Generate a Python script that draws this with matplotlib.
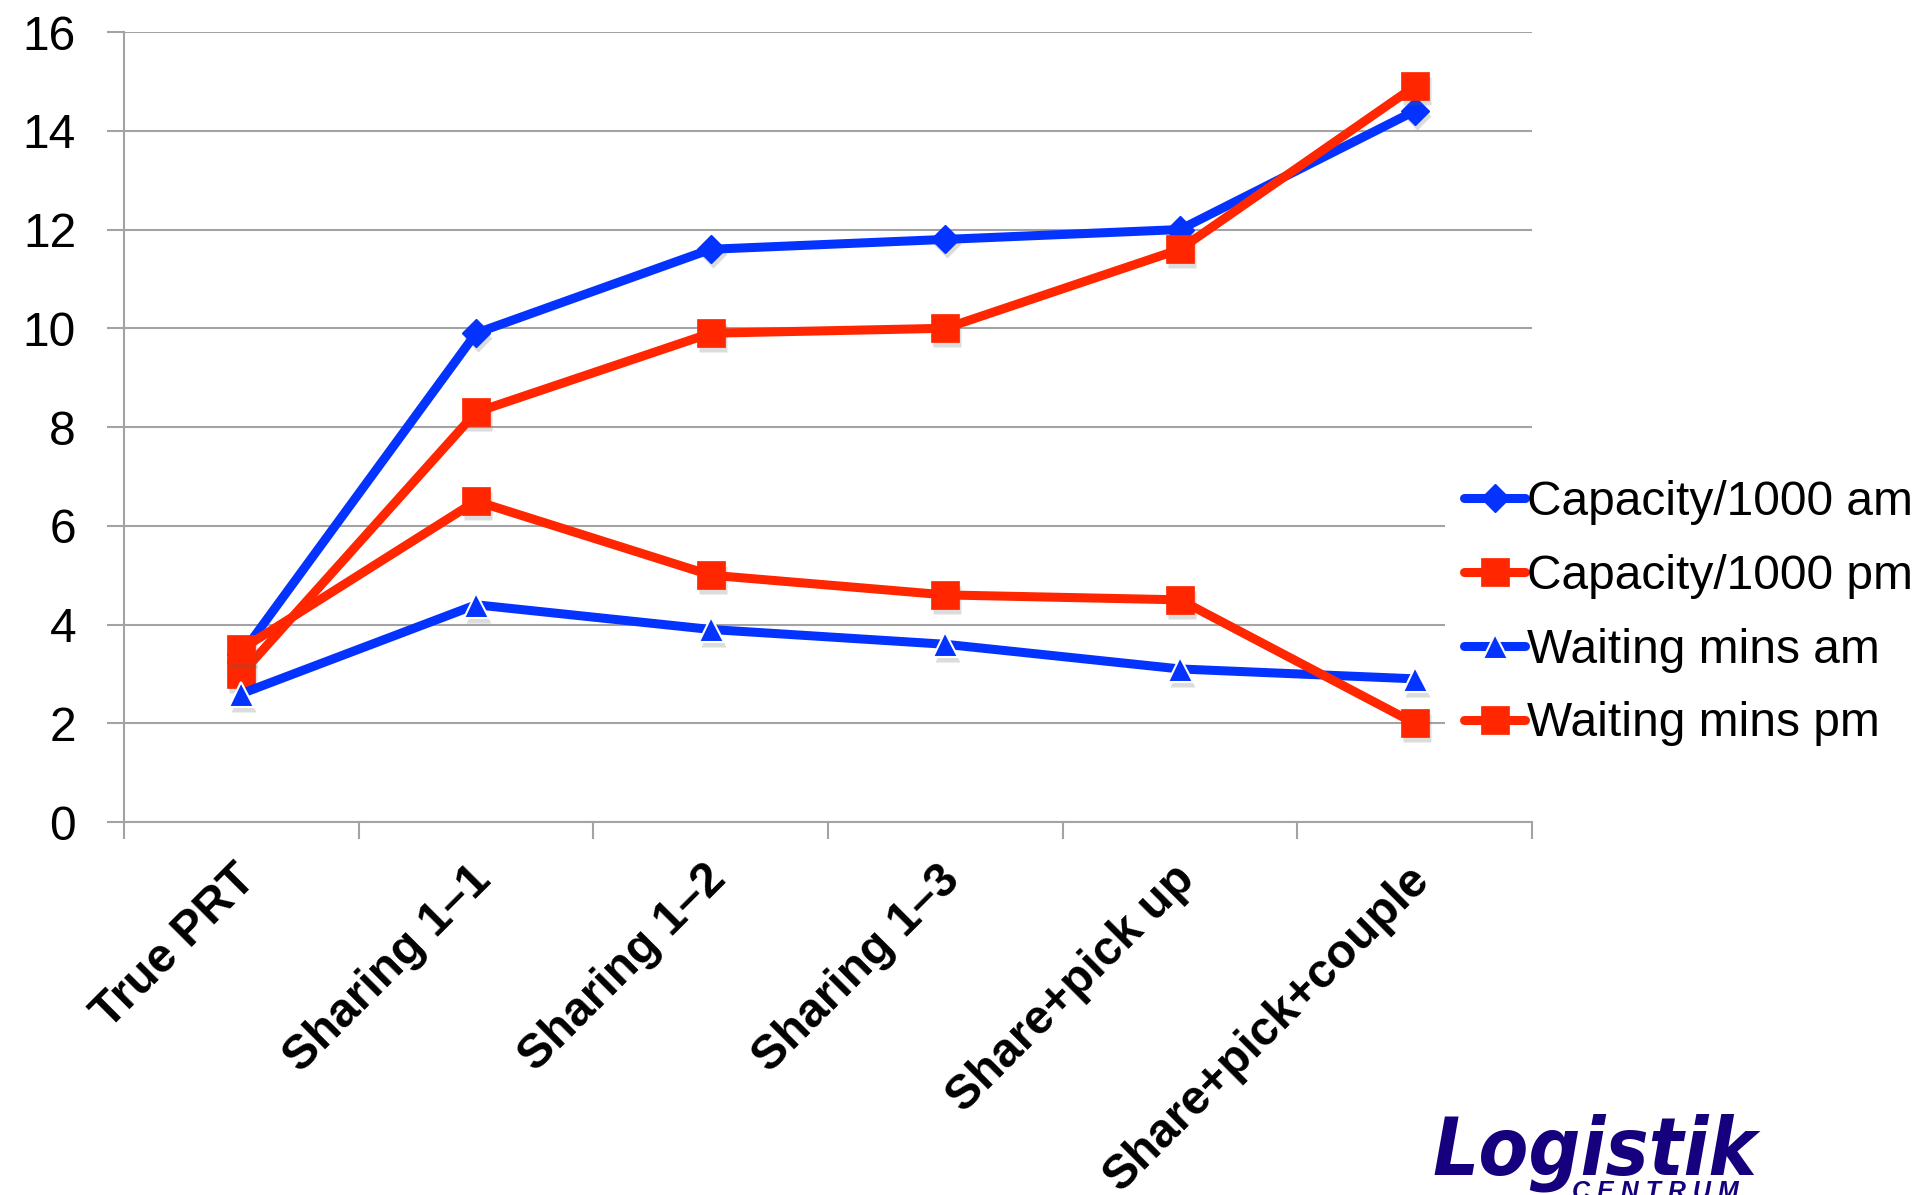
import matplotlib
matplotlib.use("Agg")
import matplotlib.pyplot as plt
from matplotlib import font_manager
from matplotlib.font_manager import FontProperties
from matplotlib.transforms import ScaledTranslation

# Scenario names along the x axis
categories = ["True PRT", "Sharing 1\u20131", "Sharing 1\u20132", "Sharing 1\u20133",
              "Share+pick up", "Share+pick+couple"]

# Series values per scenario
capacity_am = [3.4, 9.9, 11.6, 11.8, 12.0, 14.4]
capacity_pm = [3.0, 8.3, 9.9, 10.0, 11.6, 14.9]
waiting_am = [2.6, 4.4, 3.9, 3.6, 3.1, 2.9]
waiting_pm = [3.5, 6.5, 5.0, 4.6, 4.5, 2.0]

series_labels = ["Capacity/1000 am", "Capacity/1000 pm", "Waiting mins am", "Waiting mins pm"]
y_ticks = [0, 2, 4, 6, 8, 10, 12, 14, 16]

BLUE = "#0433FF"
RED = "#FF2600"
GRID = "#A3A3A3"
NAVY = "#16007E"
FS = 34.5

plt.rcParams["font.family"] = ["Liberation Sans", "DejaVu Sans"]

fig = plt.figure(figsize=(19.17, 11.95), dpi=100)
ax = fig.add_axes([0.0647, 0.3121, 0.7345, 0.6611])

xpos = [i + 0.5 for i in range(len(categories))]

styles = [
    dict(values=capacity_am, color=BLUE, marker="D", ms=14, mec=BLUE, mew=1.0),
    dict(values=capacity_pm, color=RED, marker="s", ms=19.5, mec=RED, mew=0.5),
    dict(values=waiting_am, color=BLUE, marker="^", ms=18, mec="white", mew=1.5),
    dict(values=waiting_pm, color=RED, marker="s", ms=19.5, mec=RED, mew=0.5),
]

shadow_tf = ax.transData + ScaledTranslation(1.5 / 72, -3.5 / 72, fig.dpi_scale_trans)
handles = []
for st, label in zip(styles, series_labels):
    # soft drop shadow under the markers
    ax.plot(xpos, st["values"], ls="none", marker=st["marker"], ms=st["ms"],
            color="#606060", mec="none", alpha=0.22, transform=shadow_tf, clip_on=False)
    ln, = ax.plot(xpos, st["values"], color=st["color"], lw=6.5,
                  solid_joinstyle="round", solid_capstyle="round",
                  marker=st["marker"], ms=st["ms"], mfc=st["color"],
                  mec=st["mec"], mew=st["mew"], label=label, clip_on=False)
    handles.append(ln)

ax.set_xlim(0, 6)
ax.set_ylim(0, 16)

# category boundaries carry the tick marks; the rotated labels sit on
# minor ticks nudged slightly left of each category centre
ax.set_xticks(range(len(categories) + 1))
ax.set_xticklabels([])
ax_width_px = ax.get_position().width * fig.get_figwidth() * fig.dpi
nudge = 8 / (ax_width_px / len(categories))
ax.set_xticks([p - nudge for p in xpos], minor=True)
ax.set_xticklabels(categories, minor=True, rotation=45, ha="right", va="top",
                   rotation_mode="anchor", fontsize=FS, fontweight="bold")
ax.tick_params(axis="x", which="major", length=12, width=1.5, color=GRID, direction="out")
ax.tick_params(axis="x", which="minor", length=0, pad=25)

ax.set_yticks(y_ticks)
ax.set_yticklabels([str(v) for v in y_ticks])
ax.tick_params(axis="y", length=12, width=1.5, color=GRID, pad=22.5, labelsize=FS)

ax.yaxis.grid(True, color=GRID, lw=1.5)
ax.set_axisbelow(True)
for side in ("top", "right"):
    ax.spines[side].set_visible(False)
for side in ("left", "bottom"):
    ax.spines[side].set_color(GRID)
    ax.spines[side].set_linewidth(1.5)

leg = fig.legend(handles, series_labels, loc="upper left",
                 bbox_to_anchor=(1445 / 1917, 1 - 461 / 1195), bbox_transform=fig.transFigure,
                 frameon=True, facecolor="white", edgecolor="none", framealpha=1,
                 fancybox=False, borderpad=0.4, borderaxespad=0, handlelength=1.27,
                 handletextpad=0.05, labelspacing=0.6, fontsize=FS, numpoints=1)

# company logo in the lower right corner: pick a narrow heavy italic face if present
def logo_font():
    for f in font_manager.fontManager.ttflist:
        fn = f.fname.replace("-", "").replace("_", "").lower()
        if ("narrowbolditalic" in fn or "condensedboldoblique" in fn
                or "condensedbolditalic" in fn):
            return FontProperties(fname=f.fname)
    names = {f.name for f in font_manager.fontManager.ttflist}
    fam = "Lato" if "Lato" in names else "Liberation Sans"
    return FontProperties(family=fam, weight="black", style="italic")

fp = logo_font()
logo = fig.text(1432 / 1917, 1 - 1175 / 1195, "Logistik", fontproperties=fp,
                color=NAVY, ha="left", va="baseline")
logo.set_fontsize(78)
fig.canvas.draw()
w = logo.get_window_extent().width
logo.set_fontsize(78 * 325 / w)

fig.text(1572 / 1917, 1 - 1180 / 1195, "C E N T R U M", fontsize=18, fontweight="bold",
         fontstyle="italic", color=NAVY, ha="left", va="top")

fig.savefig("out.png", dpi=100, facecolor="white")
